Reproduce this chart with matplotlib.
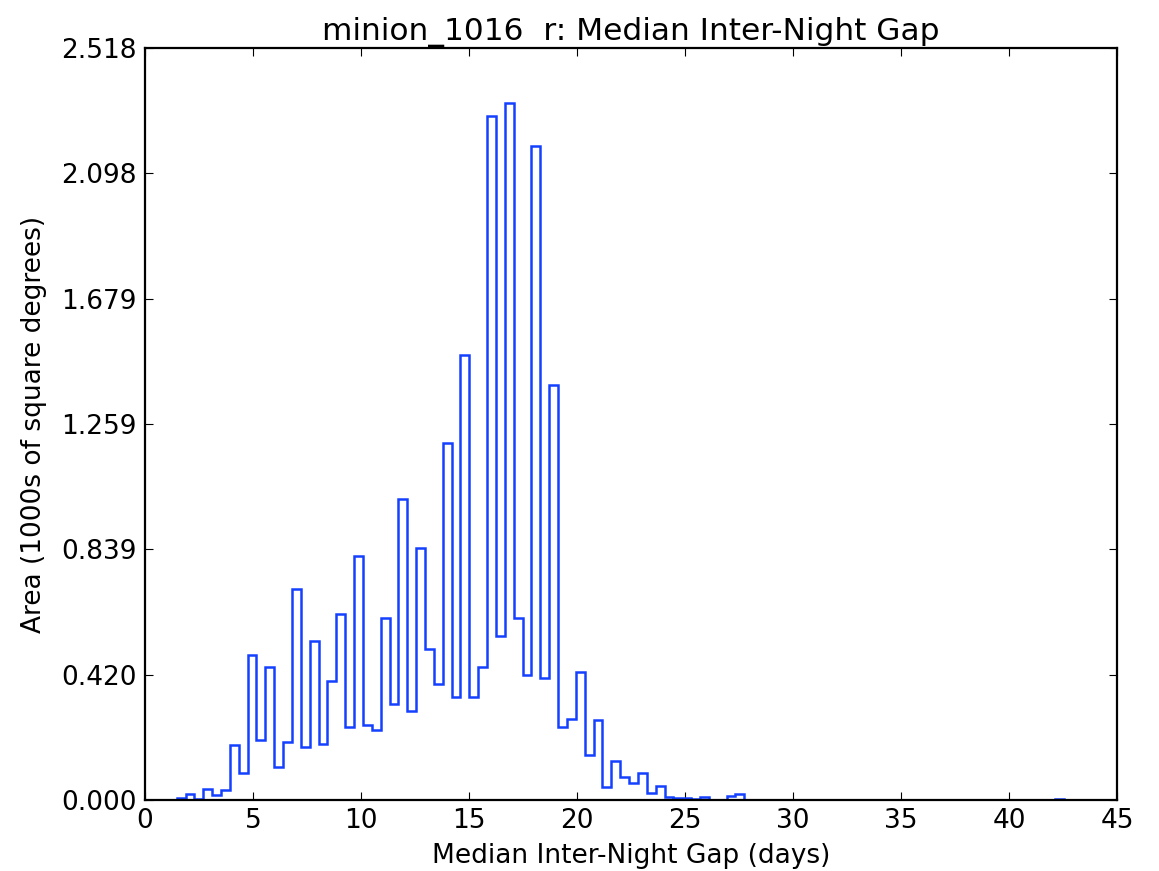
import numpy as np
import matplotlib
matplotlib.use('Agg')
import matplotlib.pyplot as plt

# Histogram of median inter-night gap, 100 bins between the min and max gap.
gap_min = 1.47
gap_max = 42.52
n_bins = 100

# Area per bin (1000s of square degrees); bins past 63 are empty except the last one.
area = [
    0.007, 0.021, 0.004, 0.038, 0.017, 0.033, 0.185, 0.092, 0.487, 0.202,
    0.446, 0.111, 0.194, 0.706, 0.179, 0.534, 0.187, 0.399, 0.622, 0.245,
    0.817, 0.251, 0.234, 0.611, 0.323, 1.007, 0.297, 0.843, 0.504, 0.389,
    1.196, 0.344, 1.491, 0.344, 0.446, 2.291, 0.550, 2.333, 0.609, 0.420,
    2.188, 0.409, 1.389, 0.246, 0.270, 0.427, 0.150, 0.268, 0.045, 0.132,
    0.076, 0.056, 0.091, 0.024, 0.047, 0.010, 0.007, 0.007, 0.003, 0.010,
    0.000, 0.000, 0.014, 0.019,
]
area_last = 0.003

y_max = 2.518
x_ticks = [0, 5, 10, 15, 20, 25, 30, 35, 40, 45]

heights = np.zeros(n_bins)
heights[:len(area)] = area
heights[-1] = area_last
edges = np.linspace(gap_min, gap_max, n_bins + 1)
centers = 0.5 * (edges[:-1] + edges[1:])

plt.rcParams['font.family'] = 'DejaVu Sans'
fig = plt.figure(figsize=(11.59, 8.71), dpi=100)
ax = fig.add_axes([0.125, 0.0815, 0.839, 0.8635])

ax.hist(centers, bins=edges, weights=heights, histtype='step',
        color='#1440ff', linewidth=1.8)

ax.set_xlim(0, 45)
ax.set_ylim(0, y_max)
ax.set_xticks(x_ticks)
y_ticks = np.linspace(0, y_max, 7)
ax.set_yticks(y_ticks)
ax.set_yticklabels([f"{t:.3f}" for t in y_ticks])

ax.tick_params(direction='in', top=True, right=True, length=6, width=0.8,
               labelsize=19, pad=6)
for spine in ax.spines.values():
    spine.set_linewidth(1.6)
    spine.set_zorder(3)

ax.set_xlabel("Median Inter-Night Gap (days)", fontsize=19, labelpad=6)
ax.set_ylabel("Area (1000s of square degrees)", fontsize=19, labelpad=10)
ax.set_title("minion_1016  r: Median Inter-Night Gap", fontsize=22.5, pad=6)

fig.savefig("out.png", dpi=100)
